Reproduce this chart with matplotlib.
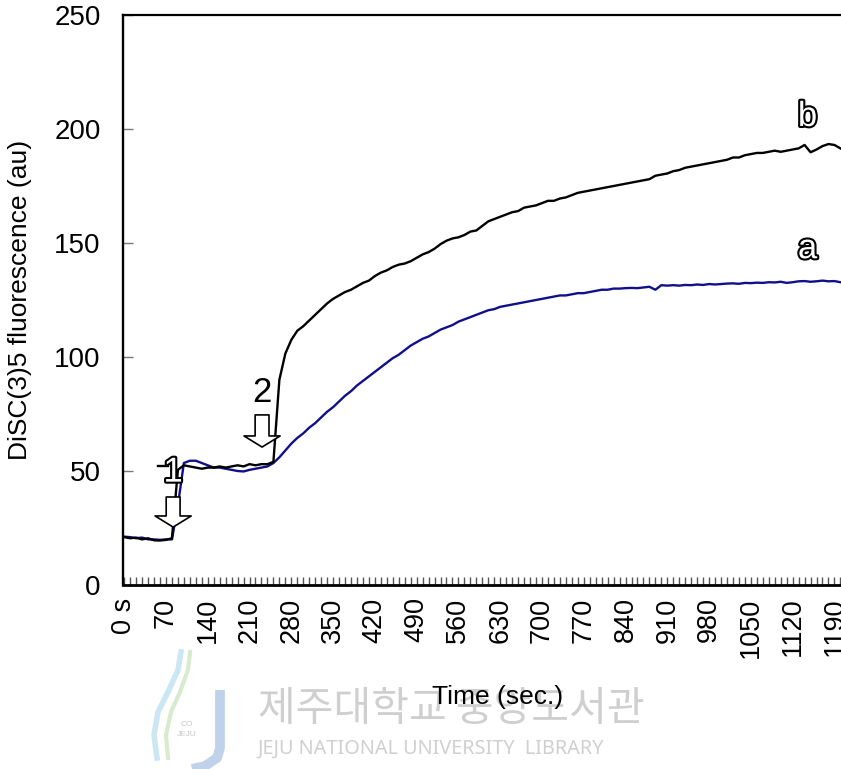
import numpy as np
import matplotlib.pyplot as plt
import matplotlib.patheffects as pe

plt.rcParams['font.family'] = ['Liberation Sans', 'DejaVu Sans']

# tiempo de muestreo (s), cada 10 s
tiempo = np.arange(0, 1201, 10)

# curva b (negra)
curva_b = [21.0, 20.5, 20.8, 20.0, 20.5, 19.6, 19.5, 19.8, 20.5, 50.5,
           52.5, 52.0, 51.5, 51.0, 51.5, 51.5, 52.0, 51.5, 52.0, 52.5,
           52.0, 53.0, 52.5, 53.0, 53.0, 54.0, 90.0, 101.5, 107.5, 111.5,
           113.5, 116.0, 118.5, 121.0, 123.5, 125.5, 127.0, 128.5, 129.5, 131.0,
           132.5, 133.5, 135.5, 137.0, 138.0, 139.5, 140.5, 141.0, 142.0, 143.5,
           145.0, 146.0, 147.5, 149.5, 151.0, 152.0, 152.5, 153.5, 155.0, 155.5,
           157.5, 159.5, 160.5, 161.5, 162.5, 163.5, 164.0, 165.5, 166.0, 166.5,
           167.5, 168.5, 168.5, 169.5, 170.0, 171.0, 172.0, 172.5, 173.0, 173.5,
           174.0, 174.5, 175.0, 175.5, 176.0, 176.5, 177.0, 177.5, 178.0, 179.5,
           180.0, 180.5, 181.5, 182.0, 183.0, 183.5, 184.0, 184.5, 185.0, 185.5,
           186.0, 186.5, 187.5, 187.5, 188.5, 189.0, 189.5, 189.5, 190.0, 190.5,
           190.0, 190.5, 191.0, 191.5, 193.0, 189.8, 191.0, 192.5, 193.4, 193.0,
           191.5]

# curva a (azul)
curva_a = [21.2, 21.0, 20.5, 20.8, 20.0, 20.0, 19.8, 20.0, 20.0, 35.0,
           53.5, 54.5, 54.5, 53.5, 52.5, 51.5, 51.5, 51.0, 50.5, 50.0,
           49.8, 50.5, 51.0, 51.5, 52.0, 53.5, 56.0, 59.0, 62.0, 64.5,
           66.5, 69.0, 71.0, 73.5, 76.0, 78.0, 80.5, 83.0, 85.0, 87.5,
           89.5, 91.5, 93.5, 95.5, 97.5, 99.5, 101.0, 103.0, 105.0, 106.5,
           108.0, 109.0, 110.5, 112.0, 113.0, 114.0, 115.5, 116.5, 117.5, 118.5,
           119.5, 120.5, 121.0, 122.0, 122.5, 123.0, 123.5, 124.0, 124.5, 125.0,
           125.5, 126.0, 126.5, 127.0, 127.0, 127.5, 128.0, 128.0, 128.5, 129.0,
           129.5, 129.5, 130.0, 130.0, 130.2, 130.3, 130.2, 130.5, 130.8, 129.5,
           131.5, 131.3, 131.5, 131.3, 131.6, 131.5, 131.8, 131.6, 132.0, 131.8,
           132.0, 132.2, 132.3, 132.1, 132.5, 132.4, 132.6, 132.5, 132.8, 132.7,
           133.0, 132.5, 132.8, 133.2, 133.3, 133.0, 133.2, 133.5, 133.2, 133.3,
           132.8]

etiquetas_x = ['0 s'] + [str(v) for v in range(70, 1191, 70)]
posiciones_x = list(range(0, 1191, 70))

fig = plt.figure(figsize=(8.41, 7.69), dpi=100)

# marca de agua (logo aproximado, en pixeles de la figura)
fondo = fig.add_axes([0, 0, 1, 1], zorder=-1)
fondo.set_xlim(0, 841)
fondo.set_ylim(769, 0)
fondo.axis('off')
fondo.plot([220, 220, 217, 205, 192], [690, 748, 758, 766, 769], color='#bfd2ea', lw=7,
           solid_capstyle='butt')
fondo.plot([181, 178, 168, 158, 154, 157], [652, 670, 692, 712, 735, 758], color='#cbe7f3', lw=4)
fondo.plot([190, 188, 180, 171, 166, 168], [652, 670, 692, 712, 735, 758], color='#d8ebcf', lw=3)
fondo.text(187, 730, 'CO\nJEJU', fontsize=6, color='#c8c8c8', ha='center', va='center',
           linespacing=1.6)
fondo.text(258, 710, '제주대학교 중앙도서관', fontsize=29.5, color='#cfcfcf',
           family=['Noto Sans CJK KR', 'DejaVu Sans'], va='center', ha='left')
fondo.text(258, 749, 'JEJU NATIONAL UNIVERSITY  LIBRARY', fontsize=14.3,
           color='#d0d0d0', family=['Noto Sans', 'DejaVu Sans'], va='center', ha='left')

ax = fig.add_axes([123 / 841, 1 - 585 / 769, 1 - 123 / 841, 570 / 769])
ax.patch.set_alpha(0)

ax.plot(tiempo, curva_a, color='#10108a', lw=1.7, zorder=3)
ax.plot(tiempo, curva_b, color='black', lw=1.7, zorder=4)

ax.set_xlim(-2, 1201)
ax.set_ylim(0, 250)
ax.set_yticks([0, 50, 100, 150, 200, 250])
ax.set_xticks(posiciones_x)
ax.set_xticklabels(etiquetas_x, rotation=90, fontsize=19.5)
ax.set_xticks(np.arange(0, 1201, 10), minor=True)
ax.tick_params(axis='y', direction='in', length=7, width=1, color='#777777',
               pad=16, labelsize=20)
ax.tick_params(axis='x', which='both', direction='in', length=6, width=1,
               color='#555555', pad=9)

for lado in ['left', 'bottom', 'top']:
    ax.spines[lado].set_color('black')
ax.spines['left'].set_linewidth(1.7)
ax.spines['bottom'].set_linewidth(2.0)
ax.spines['top'].set_linewidth(1.6)
ax.spines['right'].set_visible(False)

ax.set_ylabel('DiSC(3)5 fluorescence (au)', fontsize=19)
ax.yaxis.set_label_coords(-0.127, 0.5)
ax.set_xlabel('Time (sec.)', fontsize=19)
ax.xaxis.label.set_va('center')
ax.xaxis.set_label_coords(0.521, -0.196)

# flechas y anotaciones
flecha = dict(arrowstyle='simple,head_width=1.3,head_length=0.4,tail_width=0.5',
              fc='white', ec='black', lw=1.2, shrinkA=0, shrinkB=0, mutation_scale=20)
ax.annotate('', xy=(82, 25.4), xytext=(82, 38.6), arrowprops=flecha, zorder=6)
ax.annotate('', xy=(231, 60.5), xytext=(231, 74.6), arrowprops=flecha, zorder=6)
ax.plot([57, 74], [52, 52], color='black', lw=1.7, zorder=4)

hueco = [pe.withStroke(linewidth=3, foreground='black')]
ax.text(82, 49.5, '1', fontsize=25, color='white', ha='center', va='center',
        path_effects=hueco, zorder=7)
ax.text(231, 84.5, '2', fontsize=25, color='black', ha='center', va='center', zorder=7)
ax.text(1145, 205.5, 'b', fontsize=25, color='white', ha='center', va='center',
        path_effects=hueco, zorder=7)
ax.text(1145, 147.5, 'a', fontsize=25, color='white', ha='center', va='center',
        path_effects=hueco, zorder=7)

fig.savefig('out.png', dpi=100)
